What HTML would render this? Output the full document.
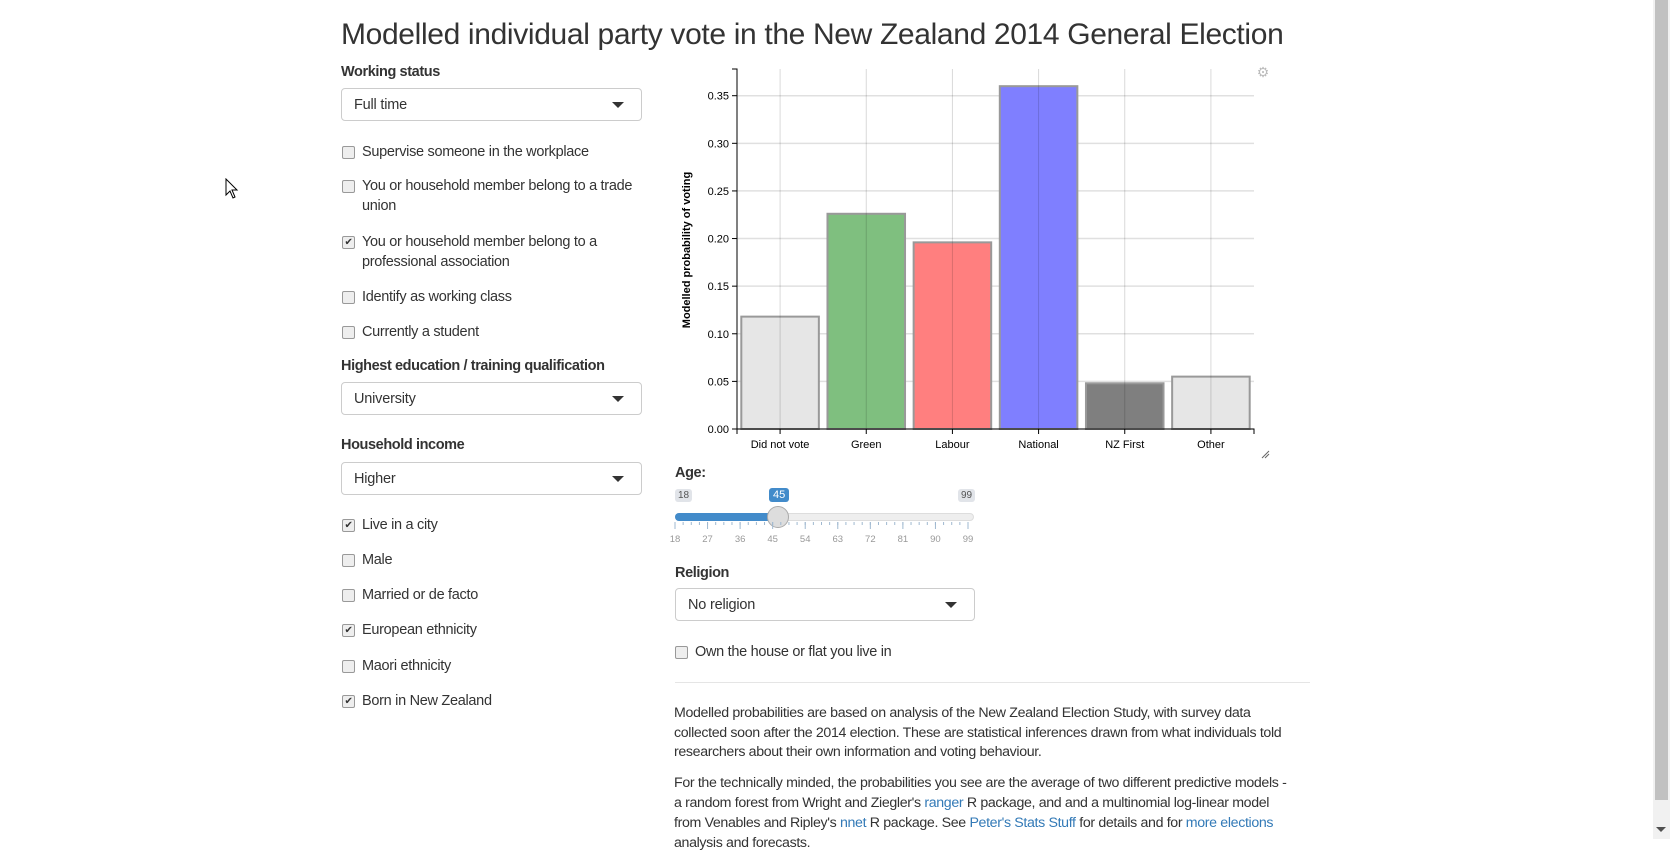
<!DOCTYPE html>
<html><head><meta charset="utf-8">
<style>
body{margin:0;width:1670px;height:839px;overflow:hidden;background:#fff;font-family:"Liberation Sans",sans-serif;color:#333;position:relative}
.a{position:absolute;white-space:nowrap}
.lbl{font-weight:bold;font-size:14.5px;letter-spacing:-0.4px}
.sel{position:absolute;border:1px solid #ccc;border-radius:4px;box-sizing:border-box;font-size:14.5px;letter-spacing:-0.2px}
.sel span{position:absolute;left:12px;top:50%;transform:translateY(-50%)}
.sel i{position:absolute;right:17px;top:50%;margin-top:-3px;border-left:6px solid transparent;border-right:6px solid transparent;border-top:6px solid #333}
.cb{position:absolute;font-size:14.5px;letter-spacing:-0.3px;line-height:20px;white-space:nowrap}
.cb b{position:absolute;left:0;top:4px;width:11px;height:11px;border:1px solid #999;border-radius:2px;background:#eee;font-weight:normal;font-size:10px;line-height:11px;text-align:center;color:#333}
.cb span{position:absolute;left:20px;top:0;white-space:nowrap}
.para{font-size:14.2px;letter-spacing:-0.35px}
a{color:#337ab7;text-decoration:none}
</style></head><body>
<div class="a" style="left:341px;top:18px;font-size:30px;letter-spacing:-0.35px;color:#333">Modelled individual party vote in the New Zealand 2014 General Election</div>

<div class="a lbl" style="left:341px;top:64px">Working status</div>
<div class="sel" style="left:341px;top:88px;width:301px;height:33px"><span>Full time</span><i></i></div>

<div class="cb" style="left:342px;top:142px"><b></b><span>Supervise someone in the workplace</span></div>
<div class="cb" style="left:342px;top:176px"><b></b><span>You or household member belong to a trade<br>union</span></div>
<div class="cb" style="left:342px;top:232px"><b>✔</b><span>You or household member belong to a<br>professional association</span></div>
<div class="cb" style="left:342px;top:287px"><b></b><span>Identify as working class</span></div>
<div class="cb" style="left:342px;top:322px"><b></b><span>Currently a student</span></div>

<div class="a lbl" style="left:341px;top:358px">Highest education / training qualification</div>
<div class="sel" style="left:341px;top:382px;width:301px;height:33px"><span>University</span><i></i></div>

<div class="a lbl" style="left:341px;top:437px">Household income</div>
<div class="sel" style="left:341px;top:462px;width:301px;height:33px"><span>Higher</span><i></i></div>

<div class="cb" style="left:342px;top:515px"><b>✔</b><span>Live in a city</span></div>
<div class="cb" style="left:342px;top:550px"><b></b><span>Male</span></div>
<div class="cb" style="left:342px;top:585px"><b></b><span>Married or de facto</span></div>
<div class="cb" style="left:342px;top:620px"><b>✔</b><span>European ethnicity</span></div>
<div class="cb" style="left:342px;top:656px"><b></b><span>Maori ethnicity</span></div>
<div class="cb" style="left:342px;top:691px"><b>✔</b><span>Born in New Zealand</span></div>

<svg class="a" style="left:225px;top:178px" width="14" height="22"><path d="M1 1 L1 17 L5 13 L8 20 L10 19 L7 12 L12 12 Z" fill="#fff" stroke="#000" stroke-width="1"/></svg>

<svg id="chart" class="a" style="left:0;top:0" width="1670" height="470"></svg>

<div class="a lbl" style="left:675px;top:465px">Age:</div>
<div class="a" style="left:675px;top:489px;font-size:10px;background:#e1e4e9;color:#555;padding:1px 3px;border-radius:3px">18</div>
<div class="a" style="left:958px;top:489px;font-size:10px;background:#e1e4e9;color:#555;padding:1px 3px;border-radius:3px">99</div>
<div class="a" style="left:769px;top:488px;font-size:11px;background:#428bca;color:#fff;padding:1px 4px;border-radius:3px">45</div>
<div class="a" style="left:675px;top:513px;width:299px;height:8px;border-radius:4px;background:#eee;border:1px solid #ddd;box-sizing:border-box"></div>
<div class="a" style="left:675px;top:513px;width:103px;height:8px;border-radius:4px 0 0 4px;background:#428bca"></div>
<div class="a" style="left:767px;top:506px;width:20px;height:20px;border-radius:50%;background:#ddd;border:1px solid #aaa"></div>
<svg id="ticks" class="a" style="left:660px;top:520px" width="340" height="30"></svg>

<div class="a lbl" style="left:675px;top:565px">Religion</div>
<div class="sel" style="left:675px;top:588px;width:300px;height:33px"><span>No religion</span><i></i></div>
<div class="cb" style="left:675px;top:642px"><b></b><span>Own the house or flat you live in</span></div>
<div class="a" style="left:675px;top:682px;width:635px;height:1px;background:#e5e5e5"></div>

<div class="a para" style="left:674px;top:704px;line-height:19.5px">Modelled probabilities are based on analysis of the New Zealand Election Study, with survey data<br>collected soon after the 2014 election. These are statistical inferences drawn from what individuals told<br>researchers about their own information and voting behaviour.</div>
<div class="a para" style="left:674px;top:773px;line-height:20px">For the technically minded, the probabilities you see are the average of two different predictive models -<br>a random forest from Wright and Ziegler's <a>ranger</a> R package, and and a multinomial log-linear model<br>from Venables and Ripley's <a>nnet</a> R package. See <a>Peter's Stats Stuff</a> for details and for <a>more elections</a><br>analysis and forecasts.</div>

<div class="a" style="left:1653px;top:0;width:17px;height:839px;background:#f1f1f1"></div>
<div class="a" style="left:1655px;top:0;width:13px;height:800px;background:#c1c1c1"></div>
<div class="a" style="left:1656px;top:827px;border-left:5px solid transparent;border-right:5px solid transparent;border-top:5px solid #505050"></div>

<script>
const categories=["Did not vote","Green","Labour","National","NZ First","Other"];
const values=[0.118,0.226,0.196,0.36,0.048,0.055];
const colors=["#e6e6e6","#7fbf7f","#ff7f7f","#7f7fff","#7f7f7f","#e6e6e6"];
const yTicks=[0,0.05,0.1,0.15,0.2,0.25,0.3,0.35];
const ageTicks=[18,27,36,45,54,63,72,81,90,99];
const NS="http://www.w3.org/2000/svg";
const svg=document.getElementById('chart');
const x0=737,x1=1254,yBase=429,yTop=69;
const y=v=>yBase-v*(yBase-95.7)/0.35;
const bw=(x1-x0)/categories.length;
const xc=i=>x0+bw*(i+0.5);
function mk(t,a,p){const e=document.createElementNS(NS,t);for(const k in a)e.setAttribute(k,a[k]);(p||svg).appendChild(e);return e;}
yTicks.forEach(t=>{
 const l=mk('line',{x1:x0,x2:x1,y1:y(t),y2:y(t),stroke:'#e0e0e0','stroke-width':1.5});
 
 
 mk('line',{x1:x0-5,x2:x0,y1:y(t),y2:y(t),stroke:'#000'});
 const tx=mk('text',{x:x0-8,y:y(t)+4,'text-anchor':'end','font-size':11,'font-family':'Liberation Sans, sans-serif',fill:'#000'});
 tx.textContent=t.toFixed(2);
 
 
});
categories.forEach((c,i)=>{
 const w=bw*0.9;
 const r=mk('rect',{x:xc(i)-w/2,y:y(values[i]),width:w,height:yBase-y(values[i]),fill:colors[i],stroke:'#999','stroke-width':2});
 
 
});
categories.forEach((c,i)=>{
 const g=mk('line',{x1:xc(i),x2:xc(i),y1:yTop,y2:yBase,stroke:'#000','stroke-opacity':0.15});
 
 
 mk('line',{x1:xc(i),x2:xc(i),y1:yBase,y2:yBase+5,stroke:'#000'});
 const t=mk('text',{x:xc(i),y:yBase+19,'text-anchor':'middle','font-size':11,'font-family':'Liberation Sans, sans-serif',fill:'#000'});
 t.textContent=c;
 
 
});
mk('path',{d:`M${x0-5},${yTop}H${x0}V${yBase}`,fill:'none',stroke:'#000'});
mk('path',{d:`M${x0},${yBase+5}V${yBase}H${x1}V${yBase+5}`,fill:'none',stroke:'#000'});
const at=mk('text',{transform:`translate(690,250) rotate(-90)`,'text-anchor':'middle','font-size':11,'font-weight':'bold','font-family':'Liberation Sans, sans-serif',fill:'#000'});
at.textContent='Modelled probability of voting';


const gear=mk('text',{x:1263,y:77,'text-anchor':'middle','font-size':14,fill:'#bbb'});
gear.textContent='⚙';


const rh=mk('path',{d:'M1262,458 L1269,451 M1265,458 L1269,454',stroke:'#666'});


const ts=document.getElementById('ticks');
const ax=v=>15+(v-18)/(99-18)*293;
for(let v=18;v<=99;v+=2.25){mk('line',{x1:ax(v),x2:ax(v),y1:2,y2:5,stroke:'#9fb8d0'},ts);}
ageTicks.forEach(v=>{
 mk('line',{x1:ax(v),x2:ax(v),y1:2,y2:9,stroke:'#9fb8d0'},ts);
 const t=mk('text',{x:ax(v),y:22,'text-anchor':'middle','font-size':9.5,'font-family':'Liberation Sans, sans-serif',fill:'#999'},ts);
 t.textContent=v;
 
 
});
</script>
</body></html>
